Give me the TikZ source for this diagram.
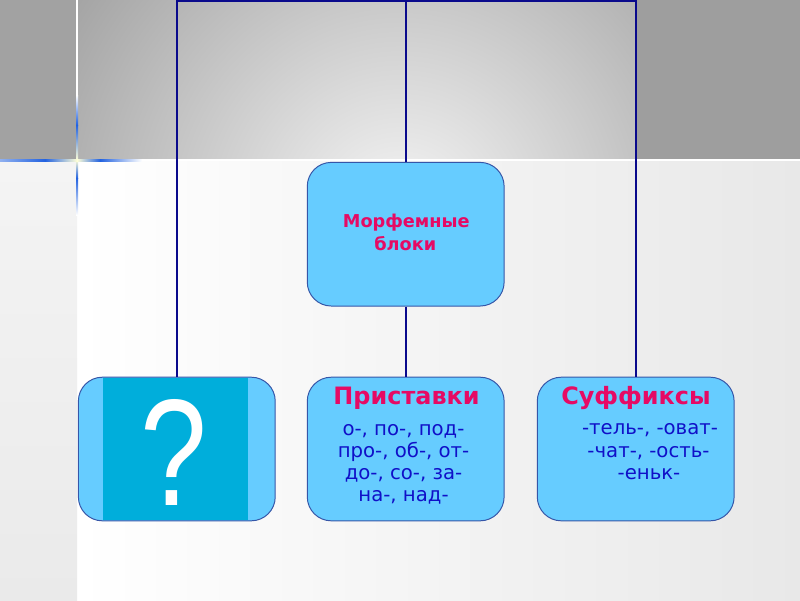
\documentclass[tikz,border=0pt]{standalone}
\usepackage{fontspec}
\setmainfont{DejaVu Sans}
\newfontfamily\qfont{Liberation Sans}
\definecolor{boxfill}{HTML}{66CCFF}
\definecolor{boxdark}{HTML}{00AEDB}
\definecolor{bordercol}{HTML}{3656A8}
\definecolor{conn}{HTML}{0A0A8C}
\definecolor{pinktxt}{HTML}{E60A64}
\definecolor{bluetxt}{HTML}{1010C8}
\definecolor{glowblue}{HTML}{2262E0}
\definecolor{glowcore}{HTML}{FFFFD8}
\definecolor{bgl}{HTML}{F6F6F6}
\definecolor{bgd}{HTML}{A2A2A2}
\definecolor{bgleft}{HTML}{A2A2A2}
\definecolor{bgright}{HTML}{9E9E9E}
\definecolor{bglow}{HTML}{E8E8E8}
\definecolor{stripa}{HTML}{F4F4F4}
\definecolor{stripb}{HTML}{EAEAEA}
\tikzset{
  box/.style={draw=bordercol, line width=0.7pt, fill=boxfill, rounded corners=0.6cm,
    minimum width=4.92cm, minimum height=3.59cm, inner sep=0pt},
  connline/.style={draw=conn, line width=1.5pt},
  titletxt/.style={text=pinktxt, font=\bfseries\fontsize{17}{20}\selectfont, inner sep=0pt, anchor=mid},
  toptxt/.style={text=pinktxt, font=\bfseries\fontsize{12.6}{15}\selectfont, inner sep=0pt, anchor=mid},
  listtxt/.style={text=bluetxt, font=\fontsize{14}{16}\selectfont, inner sep=0pt, anchor=mid},
}
\begin{document}
\begin{tikzpicture}[x=0.025cm, y=-0.025cm]
\useasboundingbox (0,0) rectangle (800,600);
% background
\fill[bgleft] (0,0) rectangle (77,160);
\fill[bgright] (636,0) rectangle (800,160);
\begin{scope}
  \clip (77,0) rectangle (636,160);
  \shade[inner color=bgl, outer color=bgd] (400,215) circle (400);
\end{scope}
\shade[left color=white, right color=bglow] (77,160) rectangle (800,600);
\shade[top color=stripa, bottom color=stripb] (0,160) rectangle (77,600);
\fill[white] (0,159.3) rectangle (800,161);
% glow lines
\fill[white] (76,0) rectangle (78,95);
\shade[top color=white, bottom color=glowblue] (76,95) rectangle (78,125);
\shade[top color=glowblue, bottom color=glowcore] (76,125) rectangle (78,160);
\shade[top color=glowcore, bottom color=glowblue] (76,160) rectangle (78,178);
\shade[top color=glowblue, bottom color=white] (76,178) rectangle (78,215);
\shade[left color=glowblue!50!white, right color=glowblue] (0,159) rectangle (45,161.5);
\shade[left color=glowblue, right color=glowcore] (45,159) rectangle (77,161.5);
\shade[left color=glowcore, right color=glowblue] (77,159) rectangle (100,161.5);
\shade[left color=glowblue, right color=white] (100,159) rectangle (142,161.5);
% nodes
\node[box] (top) at (405.7,234.2) {};
\node[box] (left) at (176.8,449) {};
\node[box] (mid) at (405.7,449) {};
\node[box] (right) at (635.7,449) {};
\fill[boxdark] (103.3,377.7) rectangle (247.8,520.3);
\node[text=white, font=\qfont\fontsize{108}{108}\selectfont, anchor=base, inner sep=0pt] (q) at (173.5,505) {\scalebox{0.79}[1]{?}};
% texts
\node[toptxt] (t1) at (406.3,224) {Морфемные};
\node[toptxt] (t2) at (405.3,247) {блоки};
\node[titletxt] (pt) at (406.5,401) {Приставки};
\node[listtxt] (p1) at (403.5,432) {о-, по-, под-};
\node[listtxt] (p2) at (403.5,454) {про-, об-, от-};
\node[listtxt] (p3) at (403.5,476) {до-, со-, за-};
\node[listtxt] (p4) at (403.5,497.5) {на-, над-};
\node[titletxt] (st) at (636,401) {Суффиксы};
\node[listtxt] (s1) at (650,431) {-тель-, -оват-};
\node[listtxt] (s2) at (648.5,454) {-чат-, -ость-};
\node[listtxt] (s3) at (649,476) {-еньк-};
% connectors
\coordinate (tl) at (176.8,1);
\coordinate (tr) at (635.7,1);
\draw[connline] (left.north) -- (tl) -- (tr) -- (right.north);
\draw[connline] (top.north) -- (top.north |- tl);
\draw[connline] (top.south) -- (mid.north);
\end{tikzpicture}
\end{document}
